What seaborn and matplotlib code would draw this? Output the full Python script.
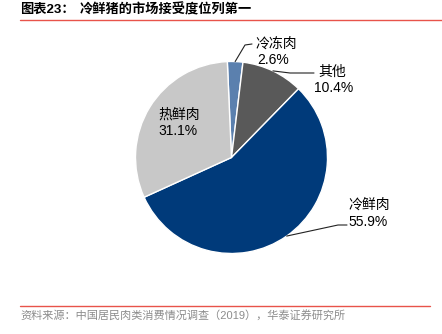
import numpy as np
import matplotlib
matplotlib.use("Agg")
import matplotlib.pyplot as plt
import seaborn as sns

# Market share of chilled pork vs other pork types (%)
categories = ["冷冻肉", "其他", "冷鲜肉", "热鲜肉"]
shares = [2.6, 10.4, 55.9, 31.1]
colors = ["#5B80AE", "#595959", "#003A7A", "#C8C8C8"]

title_no = "图表23："
title_text = "冷鲜猪的市场接受度位列第一"
source_text = "资料来源：中国居民肉类消费情况调查（2019），华泰证券研究所"

sns.set_theme(style="white")
plt.rcParams["font.family"] = ["Liberation Sans", "Noto Sans CJK SC"]

W, H = 442, 334
fig = plt.figure(figsize=(W / 100, H / 100), dpi=100)
fig.patch.set_facecolor("white")
ax = fig.add_axes([0, 0, 1, 1])

cx, cy, r = 231.5, H - 157.5, 96
start = 92.5
wedges, _ = ax.pie(shares, colors=colors, startangle=start, counterclock=False,
                   center=(cx, cy), radius=r,
                   wedgeprops=dict(edgecolor="white", linewidth=1.0))
ax.set_xlim(0, W)
ax.set_ylim(0, H)
ax.set_aspect("equal")
ax.axis("off")

# mid-angle of each wedge, for leader lines
cum = np.cumsum([0] + shares)
mids = [start - (cum[i] + shares[i] / 2) * 3.6 for i in range(len(shares))]

def edge(i):
    a = np.deg2rad(mids[i])
    return cx + r * np.cos(a), cy + r * np.sin(a)

lab_kw = dict(fontsize=10, color="black", ha="left", va="center")

# 冷冻肉
x0, y0 = edge(0)
ax.plot([x0, 245, 252], [y0, H - 45, H - 44], color="#222222", lw=0.8)
ax.text(255, H - 44, categories[0], **lab_kw)
ax.text(257, H - 60, f"{shares[0]:.1f}%", **lab_kw)

# 其他
x1, y1 = edge(1)
ax.plot([x1, 290, 314], [y1, H - 73, H - 73], color="#222222", lw=0.8)
ax.text(318, H - 72, categories[1], **lab_kw)
ax.text(314, H - 88, f"{shares[1]:.1f}%", **lab_kw)

# 冷鲜肉
x2, y2 = edge(2)
ax.plot([x2, 338, 347], [y2, H - 225, H - 225], color="#222222", lw=0.8)
ax.text(348, H - 205, categories[2], **lab_kw)
ax.text(348, H - 222, f"{shares[2]:.1f}%", **lab_kw)

# 热鲜肉 (inside the wedge)
ax.text(158, H - 115, categories[3], **lab_kw)
ax.text(158, H - 131, f"{shares[3]:.1f}%", **lab_kw)

# header and footer
fig.text(20 / W, 1 - 10 / H, title_no, fontsize=9.5, fontweight="bold",
         ha="left", va="center", color="black")
fig.text(80 / W, 1 - 10 / H, title_text, fontsize=9.5, fontweight="bold",
         ha="left", va="center", color="black")
ax.plot([20, W], [H - 19.5, H - 19.5], color="#E8534A", lw=1.0)
ax.plot([20, 430], [H - 305.5, H - 305.5], color="#E8534A", lw=1.0)
fig.text(20 / W, 1 - 315 / H, source_text, fontsize=8, color="#8C8C8C",
         ha="left", va="center")

fig.savefig("out.png", dpi=100, facecolor="white")
